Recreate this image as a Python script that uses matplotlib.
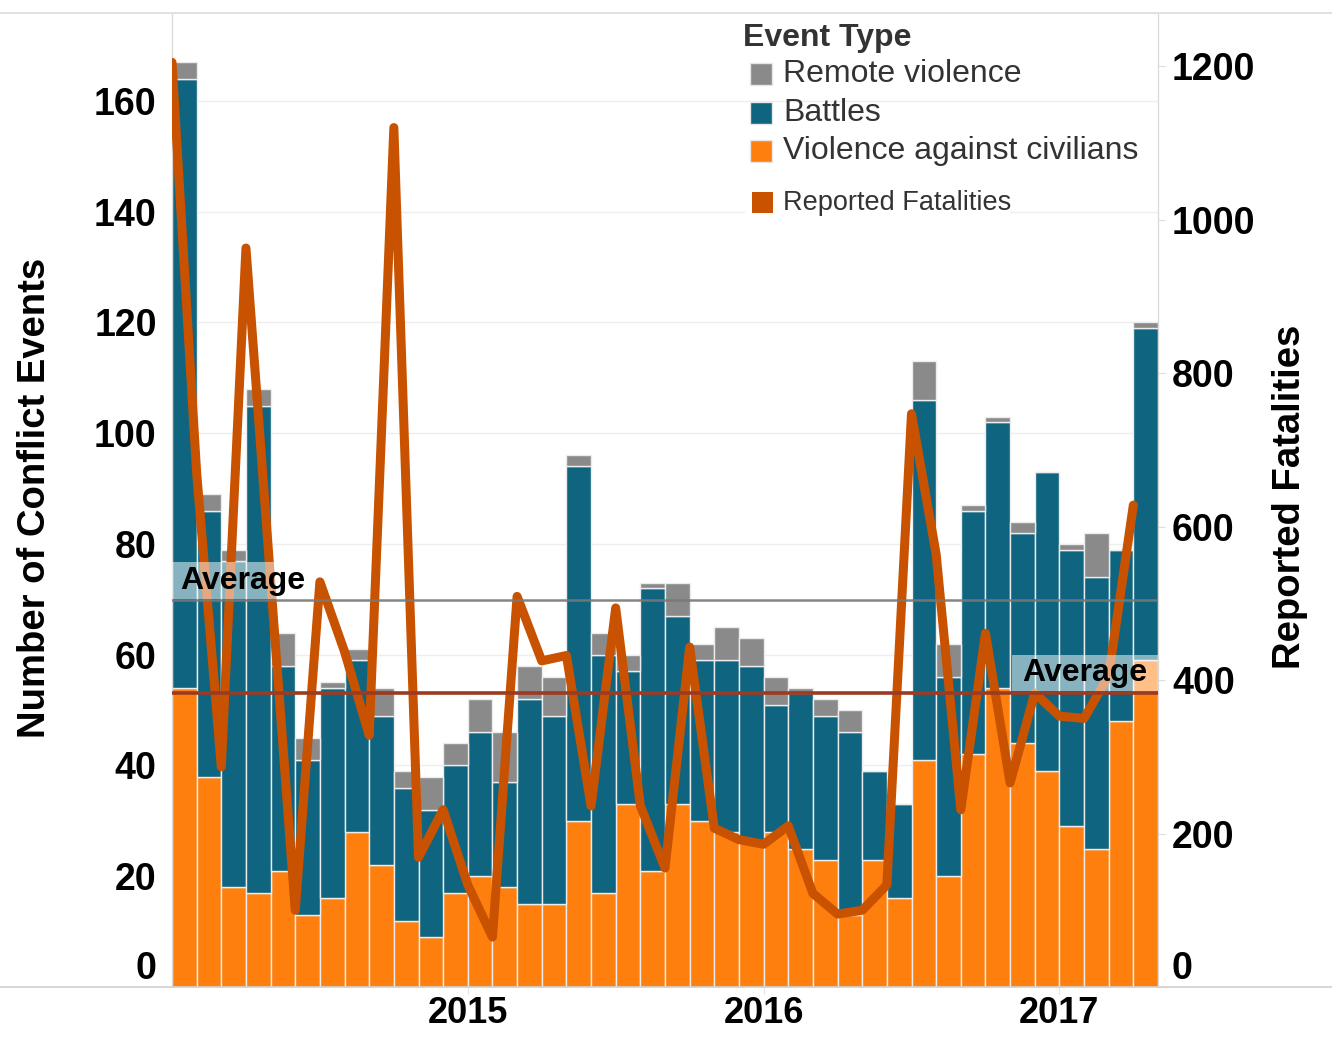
import numpy as np
import matplotlib
matplotlib.use("Agg")
import matplotlib.pyplot as plt
from matplotlib.patches import Rectangle
from matplotlib.lines import Line2D

plt.rcParams['font.family'] = ['Liberation Sans', 'DejaVu Sans']

# ---------------- data (monthly, Jan 2014 - Apr 2017) ----------------
violence_civilians = [54, 38, 18, 17, 21, 13, 16, 28, 22, 12, 9, 17, 20, 18, 15, 15, 30, 17, 33, 21,
                      33, 30, 28, 26, 28, 25, 23, 13, 23, 16, 41, 20, 42, 54, 44, 39, 29, 25, 48, 59]
battles = [110, 48, 59, 88, 37, 28, 38, 31, 27, 24, 23, 23, 26, 19, 37, 34, 64, 43, 24, 51,
           34, 29, 31, 32, 23, 28, 26, 33, 16, 17, 65, 36, 44, 48, 38, 54, 50, 49, 31, 60]
remote_violence = [3, 3, 2, 3, 6, 4, 1, 2, 5, 3, 6, 4, 6, 9, 6, 7, 2, 4, 3, 1,
                   6, 3, 6, 5, 5, 1, 3, 4, 0, 0, 7, 6, 1, 1, 2, 0, 1, 8, 0, 1]
fatalities = [1205, 670, 287, 963, 530, 100, 528, 437, 328, 1120, 169, 231, 133, 65, 509, 425,
              432, 236, 494, 236, 155, 443, 207, 192, 186, 210, 122, 95, 100, 133, 747, 564,
              231, 461, 266, 383, 353, 350, 406, 628]
year_ticks = [12, 24, 36]
year_labels = ['2015', '2016', '2017']
legend_labels = ['Remote violence', 'Battles', 'Violence against civilians']

C_ORANGE = '#FF7F0E'
C_TEAL = '#0F6580'
C_GRAY = '#8A8A8A'
C_LINE = '#C85200'
C_AVG_FAT = '#9A3B22'
C_AVG_EV = '#787878'

W, H = 1332, 1037
fig = plt.figure(figsize=(W / 100, H / 100), dpi=100)
AX_L, AX_R, AX_T, AX_B = 172, 1158, 14, 987
ax = fig.add_axes([AX_L / W, 1 - AX_B / H, (AX_R - AX_L) / W, (AX_B - AX_T) / H])
ax2 = ax.twinx()

LEFT_MAX, RIGHT_MAX = 175.7, 1268
ax.set_xlim(0, 40)
ax.set_ylim(0, LEFT_MAX)
ax2.set_ylim(0, RIGHT_MAX)
ppu_l = (AX_B - AX_T) / LEFT_MAX
ppu_r = (AX_B - AX_T) / RIGHT_MAX
ppx = (AX_R - AX_L) / 40.0

x = np.arange(len(battles))
vac = np.array(violence_civilians)
bat = np.array(battles)
rem = np.array(remote_violence)
fat = np.array(fatalities)

ax.set_axisbelow(True)
ax.grid(axis='y', color='#eeeeee', lw=1.0)
bar_kw = dict(width=1.0, align='edge', edgecolor='#ececec', linewidth=1.0, zorder=2)
ax.bar(x, vac, color=C_ORANGE, **bar_kw)
ax.bar(x, bat, bottom=vac, color=C_TEAL, **bar_kw)
ax.bar(x, rem, bottom=vac + bat, color=C_GRAY, **bar_kw)

# fatalities line (points at start of each month)
ax2.plot(x, fat, color=C_LINE, lw=6.5, solid_joinstyle='round', solid_capstyle='round', zorder=3)

avg_ev = np.mean(vac + bat + rem)
avg_fat = np.mean(fat)
ax2.axhline(avg_ev * RIGHT_MAX / LEFT_MAX, color=C_AVG_EV, lw=1.8, alpha=0.9, zorder=4)
ax2.axhline(avg_fat, color=C_AVG_FAT, lw=2.6, zorder=4)

# Average labels
ax2.add_patch(Rectangle((0, avg_ev * RIGHT_MAX / LEFT_MAX + 1 / ppu_r), (310 - AX_L) / ppx, 37 / ppu_r,
                        facecolor='white', alpha=0.5, edgecolor='none', zorder=5))
ax2.text(8 / ppx, avg_ev * RIGHT_MAX / LEFT_MAX + 19 / ppu_r, 'Average', fontsize=23, fontweight='bold',
         ha='left', va='center', color='black', zorder=6)
ax2.add_patch(Rectangle(((1012 - AX_L) / ppx, avg_fat + 2 / ppu_r), (AX_R - 1012) / ppx, 36 / ppu_r,
                        facecolor='white', alpha=0.5, edgecolor='none', zorder=5))
ax2.text((1147 - AX_L) / ppx, avg_fat + 20 / ppu_r, 'Average', fontsize=23, fontweight='bold',
         ha='right', va='center', color='black', zorder=6)

# axes styling
for a in (ax, ax2):
    for s in ('top', 'bottom'):
        a.spines[s].set_visible(False)
    a.spines['left'].set_color('#d8d8d8')
    a.spines['right'].set_color('#d8d8d8')

ax.set_yticks(range(0, 161, 20))
ax.set_yticklabels([str(v) for v in range(0, 161, 20)], fontsize=27, fontweight='bold')
ax.tick_params(axis='y', length=0, pad=11)
ax.get_yticklabels()[0].set_va('bottom')

ax2.set_yticks(range(0, 1201, 200))
ax2.set_yticklabels([str(v) for v in range(0, 1201, 200)], fontsize=27, fontweight='bold')
ax2.tick_params(axis='y', length=5, color='#dddddd', pad=5)
ax2.get_yticklabels()[0].set_va('bottom')

ax.set_xticks(year_ticks)
ax.set_xticklabels(year_labels, fontsize=26, fontweight='bold')
ax.tick_params(axis='x', length=5, color='#e4e4e4', pad=1.5)

fig.text(35 / W, 1 - 498 / H, 'Number of Conflict Events', rotation=90, ha='center', va='center',
         fontsize=27.5, fontweight='bold', color='black')
fig.text(1290 / W, 1 - 497 / H, 'Reported Fatalities', rotation=90, ha='center', va='center',
         fontsize=27.5, fontweight='bold', color='black')

# frame lines
fig.add_artist(Line2D([0, 1], [1 - AX_B / H] * 2, color='#d0d0d0', lw=1.2))
fig.add_artist(Line2D([0, 1], [1 - 13 / H] * 2, color='#dcdcdc', lw=1.2))

# legend (drawn manually)
def fx(px):
    return px / W

def fy(py):
    return 1 - py / H

fig.text(fx(743), fy(38), 'Event Type', fontsize=23, fontweight='bold', color='#333333',
         ha='left', va='center')
for lab, col, yc in zip(legend_labels, [C_GRAY, C_TEAL, C_ORANGE], [74, 113, 151]):
    fig.add_artist(Rectangle((fx(750), fy(yc + 11)), 22 / W, 22 / H, transform=fig.transFigure,
                             facecolor=col, edgecolor='#e6e6e6', lw=1))
    fig.text(fx(783), fy(yc), lab, fontsize=23, color='#333333', ha='left', va='center')

fig.add_artist(Rectangle((fx(745), fy(217)), 265 / W, 28 / H, transform=fig.transFigure,
                         facecolor='white', edgecolor='none', zorder=10))
fig.add_artist(Rectangle((fx(752), fy(213)), 21 / W, 21 / H, transform=fig.transFigure,
                         facecolor=C_LINE, edgecolor='none', zorder=11))
fig.text(fx(783), fy(203), 'Reported Fatalities', fontsize=19.5, color='#333333',
         ha='left', va='center', zorder=11)

fig.savefig('out.png', dpi=100, facecolor='white')
